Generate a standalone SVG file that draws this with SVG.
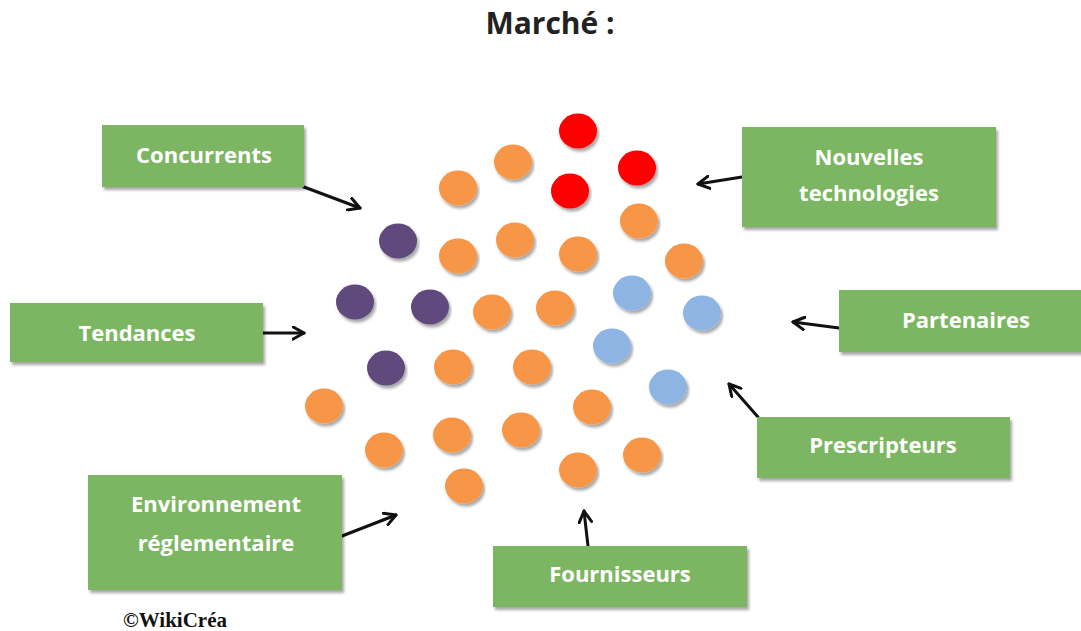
<svg xmlns="http://www.w3.org/2000/svg" width="1081" height="631" viewBox="0 0 1081 631">
  <defs>
    <filter id="shadow" x="-5%" y="-5%" width="112%" height="120%">
      <feGaussianBlur in="SourceAlpha" stdDeviation="1.5"/>
      <feOffset dx="1.5" dy="2.5" result="b"/>
      <feComponentTransfer><feFuncA type="linear" slope="0.35"/></feComponentTransfer>
      <feMerge><feMergeNode/><feMergeNode in="SourceGraphic"/></feMerge>
    </filter>
    <marker id="arrow" viewBox="0 0 12 12" refX="10" refY="6" markerWidth="15" markerHeight="15" markerUnits="userSpaceOnUse" orient="auto">
      <path d="M1,1 L10,6 L1,11" fill="none" stroke="#111" stroke-width="2.4" stroke-linecap="round" stroke-linejoin="round"/>
    </marker>
  </defs>
  <style>
    .box { fill: #7DB664; filter: url(#shadow); }
    .lbl { font-family: "Open Sans", "Liberation Sans", sans-serif; font-weight: bold; font-size: 22px; fill: #fff; text-anchor: middle; }
    .title { font-family: "Open Sans", "Liberation Sans", sans-serif; font-weight: bold; font-size: 30px; fill: #222; text-anchor: middle; }
    .conn line { stroke: #111; stroke-width: 3; stroke-linecap: round; marker-end: url(#arrow); }
    .o { fill: #F79646; }
    .r { fill: #FF0000; }
    .p { fill: #604A7B; }
    .b { fill: #8EB4E3; }
    .dots ellipse { filter: url(#shadow); }
  </style>

  <rect width="1081" height="631" fill="#fff"/>

  <text class="title" x="550" y="34">Marché :</text>

  <!-- market dots -->
  <g id="market" class="dots">
    <ellipse class="r" cx="578" cy="131" rx="19" ry="17.5"/>
    <ellipse class="r" cx="637" cy="168" rx="19" ry="17.5"/>
    <ellipse class="r" cx="570" cy="191" rx="19" ry="17.5"/>
    <ellipse class="o" cx="513" cy="162" rx="19" ry="17.5"/>
    <ellipse class="o" cx="458" cy="188" rx="19" ry="17.5"/>
    <ellipse class="p" cx="398" cy="241" rx="19" ry="17.5"/>
    <ellipse class="o" cx="458" cy="256" rx="19" ry="17.5"/>
    <ellipse class="o" cx="515" cy="240" rx="19" ry="17.5"/>
    <ellipse class="o" cx="578" cy="254" rx="19" ry="17.5"/>
    <ellipse class="o" cx="639" cy="221" rx="19" ry="17.5"/>
    <ellipse class="o" cx="684" cy="261" rx="19" ry="17.5"/>
    <ellipse class="b" cx="632" cy="293" rx="19" ry="17.5"/>
    <ellipse class="b" cx="702" cy="313" rx="19" ry="17.5"/>
    <ellipse class="p" cx="355" cy="302" rx="19" ry="17.5"/>
    <ellipse class="p" cx="430" cy="307" rx="19" ry="17.5"/>
    <ellipse class="o" cx="492" cy="312" rx="19" ry="17.5"/>
    <ellipse class="o" cx="555" cy="308" rx="19" ry="17.5"/>
    <ellipse class="b" cx="612" cy="346" rx="19" ry="17.5"/>
    <ellipse class="p" cx="386" cy="368" rx="19" ry="17.5"/>
    <ellipse class="o" cx="453" cy="367" rx="19" ry="17.5"/>
    <ellipse class="o" cx="532" cy="367" rx="19" ry="17.5"/>
    <ellipse class="b" cx="668" cy="387" rx="19" ry="17.5"/>
    <ellipse class="o" cx="324" cy="406" rx="19" ry="17.5"/>
    <ellipse class="o" cx="592" cy="407" rx="19" ry="17.5"/>
    <ellipse class="o" cx="384" cy="450" rx="19" ry="17.5"/>
    <ellipse class="o" cx="452" cy="435" rx="19" ry="17.5"/>
    <ellipse class="o" cx="521" cy="430" rx="19" ry="17.5"/>
    <ellipse class="o" cx="642" cy="455" rx="19" ry="17.5"/>
    <ellipse class="o" cx="578" cy="470" rx="19" ry="17.5"/>
    <ellipse class="o" cx="464" cy="486" rx="19" ry="17.5"/>
  </g>

  <!-- arrows pointing at the market -->
  <g id="connectors" class="conn">
    <line x1="304" y1="187" x2="360" y2="208"/>
    <line x1="263" y1="333" x2="304" y2="333"/>
    <line x1="342" y1="536" x2="396" y2="515"/>
    <line x1="588" y1="546" x2="584" y2="511"/>
    <line x1="742" y1="177" x2="698" y2="184"/>
    <line x1="839" y1="328" x2="793" y2="322"/>
    <line x1="758" y1="417" x2="729" y2="384"/>
  </g>

  <g id="concurrents">
    <rect class="box" x="102" y="125" width="202" height="62"/>
    <text class="lbl" x="204" y="163">Concurrents</text>
  </g>

  <g id="tendances">
    <rect class="box" x="10" y="303" width="253" height="59"/>
    <text class="lbl" x="137" y="341">Tendances</text>
  </g>

  <g id="environnement">
    <rect class="box" x="88" y="475" width="254" height="115"/>
    <text class="lbl" x="216" y="512">Environnement</text>
    <text class="lbl" x="216" y="551">réglementaire</text>
  </g>

  <g id="fournisseurs">
    <rect class="box" x="493" y="546" width="254" height="61"/>
    <text class="lbl" x="620" y="582">Fournisseurs</text>
  </g>

  <g id="nouvelles-technologies">
    <rect class="box" x="742" y="127" width="254" height="100"/>
    <text class="lbl" x="869" y="165">Nouvelles</text>
    <text class="lbl" x="869" y="201">technologies</text>
  </g>

  <g id="partenaires">
    <rect class="box" x="839" y="290" width="242" height="62"/>
    <text class="lbl" x="966" y="328">Partenaires</text>
  </g>

  <g id="prescripteurs">
    <rect class="box" x="757" y="417" width="253" height="61"/>
    <text class="lbl" x="883" y="453">Prescripteurs</text>
  </g>

  <text x="123" y="627" font-family="'Liberation Serif', serif" font-weight="bold" font-size="21" fill="#111">©WikiCréa</text>
</svg>
